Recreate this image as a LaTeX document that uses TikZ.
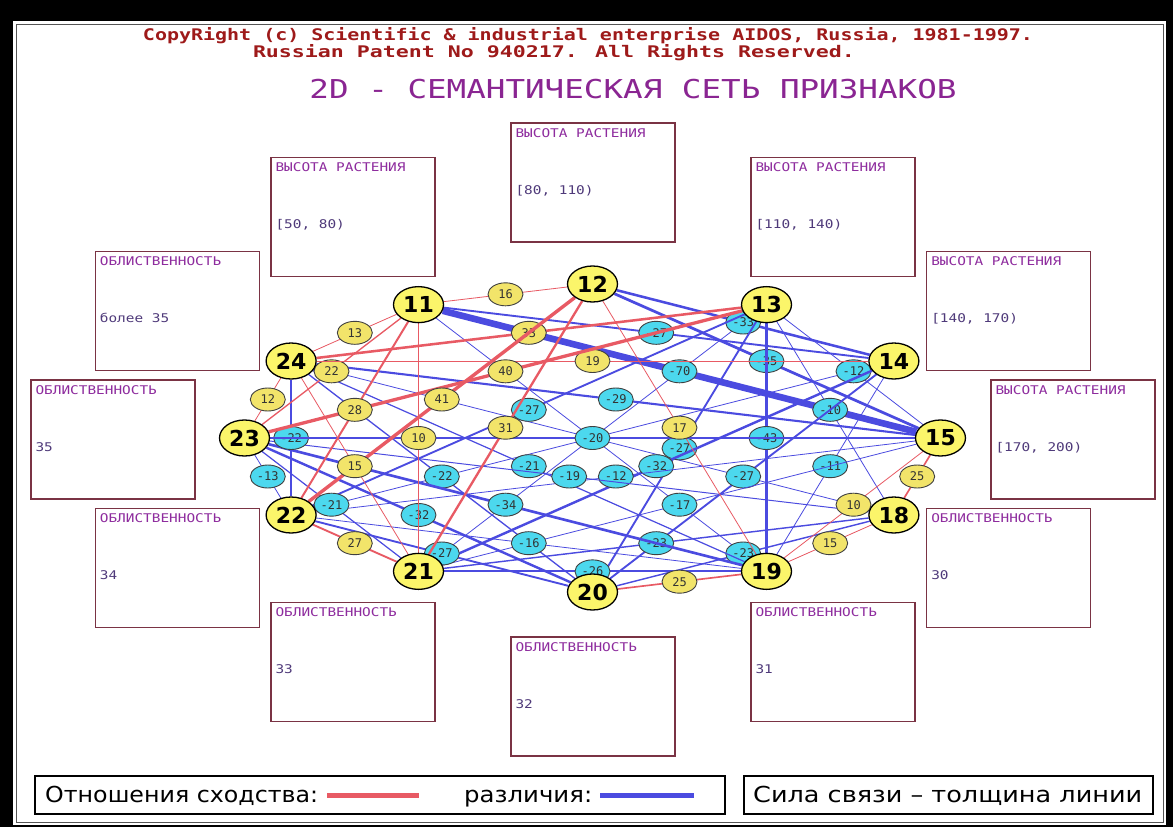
\documentclass[tikz,border=0pt]{standalone}
\usepackage{fontspec}
\setmainfont{DejaVu Sans}
\newfontfamily\monofont{DejaVu Sans Mono}
\newfontfamily\boxfont[FakeStretch=1.2]{DejaVu Sans Mono}
\usetikzlibrary{shapes.geometric,backgrounds}
\pgfdeclarelayer{links}
\pgfsetlayers{background,links,main}
\definecolor{simred}{HTML}{E85A64}
\definecolor{diffblue}{HTML}{4B4BE0}
\definecolor{nodeyellow}{HTML}{FBF56A}
\definecolor{labyellow}{HTML}{F2E46A}
\definecolor{labcyan}{HTML}{4CD8EE}
\definecolor{boxmaroon}{HTML}{7A3344}
\definecolor{headpurple}{HTML}{8E2C9E}
\definecolor{valpurple}{HTML}{4F3A7A}
\definecolor{copyred}{HTML}{9E1A1A}
\definecolor{titlepurple}{HTML}{8A2592}
\definecolor{framegray}{HTML}{555555}
\newcommand\fitto[2]{\resizebox{#1}{\height}{#2}}
\tikzset{
  featnode/.style={ellipse,draw=black,line width=1.3pt,fill=nodeyellow,minimum width=50pt,minimum height=36pt,inner sep=0pt,font=\bfseries\fontsize{22}{22}\selectfont},
  lab/.style={ellipse,draw=black!75,line width=0.9pt,minimum width=35pt,minimum height=23pt,inner sep=0pt,text=black!80,font=\monofont\fontsize{12}{12}\selectfont},
  simlab/.style={lab,fill=labyellow},
  difflab/.style={lab,fill=labcyan},
  simlink/.style={draw=simred},
  difflink/.style={draw=diffblue},
  gradbox/.style={draw=boxmaroon,line width=1.3pt,fill=white,minimum width=164pt,minimum height=119pt,inner sep=0pt},
  gradhead/.style={anchor=base west,inner sep=0pt,text=headpurple,font=\boxfont\fontsize{12}{12}\selectfont},
  gradval/.style={anchor=base west,inner sep=0pt,text=valpurple,font=\boxfont\fontsize{12}{12}\selectfont},
  copytext/.style={anchor=base,inner sep=0pt,text=copyred,font=\monofont\bfseries\fontsize{16}{16}\selectfont},
  titletext/.style={anchor=base,inner sep=0pt,text=titlepurple,font=\monofont\fontsize{26}{26}\selectfont},
  legendbox/.style={draw=black,line width=1.5pt,fill=white,anchor=north west,inner sep=0pt},
  legendtext/.style={anchor=base west,inner sep=0pt,font=\fontsize{22}{22}\selectfont}
}
\begin{document}
\begin{tikzpicture}[x=1pt,y=-1pt]
  % screen frame
  \begin{scope}[on background layer]
    \fill[black] (0,0) rectangle (1173,827);
    \fill[white] (13,21) rectangle (1166,825);
    \draw[framegray,line width=1pt] (16,24) rectangle (1163,822);
  \end{scope}

  % headings
  \node[copytext] (copy1) at (588,40) {\fitto{890pt}{CopyRight (c) Scientific \& industrial enterprise AIDOS, Russia, 1981-1997.}};
  \node[copytext] (copy2) at (554,57) {\fitto{602pt}{Russian Patent No 940217. All Rights Reserved.}};
  \node[titletext] (title) at (633,98) {\fitto{647pt}{2D - СЕМАНТИЧЕСКАЯ СЕТЬ ПРИЗНАКОВ}};

  % feature boxes round the net
  \foreach \n/\a/\head/\val in {12/90/ВЫСОТА РАСТЕНИЯ/{[80, 110)},11/120/ВЫСОТА РАСТЕНИЯ/{[50, 80)},
      13/60/ВЫСОТА РАСТЕНИЯ/{[110, 140)},14/30/ВЫСОТА РАСТЕНИЯ/{[140, 170)},15/0/ВЫСОТА РАСТЕНИЯ/{[170, 200)},
      18/-30/ОБЛИСТВЕННОСТЬ/30,19/-60/ОБЛИСТВЕННОСТЬ/31,20/-90/ОБЛИСТВЕННОСТЬ/32,21/-120/ОБЛИСТВЕННОСТЬ/33,
      22/-150/ОБЛИСТВЕННОСТЬ/34,23/180/ОБЛИСТВЕННОСТЬ/35,24/150/ОБЛИСТВЕННОСТЬ/более 35}{
    \node[gradbox] (g\n) at ({593+480*cos(\a)},{439.5-257*sin(\a)}) {};
    \node[gradhead] (h\n) at ([xshift=5pt,yshift=-15pt]g\n.north west) {\head};
    \node[gradval] (v\n) at ([xshift=5pt,yshift=-72pt]g\n.north west) {\val};
  }

  % feature nodes on the ellipse
  \foreach \n/\a in {12/90,13/60,14/30,15/0,18/-30,19/-60,20/-90,21/-120,22/-150,23/180,24/150,11/120}
    \node[featnode] (n\n) at ({592.5+348*cos(\a)},{438-154*sin(\a)}) {\n};

  \begin{pgfonlayer}{links}
    % links of difference
    \foreach \a/\b in {11/19,24/18,13/21,14/22}
      \draw[difflink,line width=0.8pt] (n\a) -- (n\b);
    \foreach \a/\b/\v in {11/14/-27,12/14/-33,12/15/-35,11/15/-70,13/15/-12,24/15/-29,13/18/-10,14/19/-11,
        13/19/-43,20/13/-27,21/14/-32,22/15/-12,20/14/-27,21/15/-17,21/18/-23,20/18/-23,22/13/-27,
        24/19/-21,23/18/-19,24/20/-22,23/19/-34,23/20/-32,22/19/-16,22/20/-27,21/19/-26,24/22/-22,
        23/22/-13,23/21/-21,23/15/-20}{
      \pgfmathsetmacro\w{max(0.8,(abs(\v)-10)*0.11)}
      \draw[difflink,line width=\w pt] (n\a) -- (n\b) node[midway,difflab] {\v};
    }
    % links of similarity
    \foreach \a/\b/\v in {11/12/16,24/11/13,23/24/12,23/11/22,24/13/33,24/14/19,23/13/40,22/11/28,
        22/12/41,21/11/10,21/12/31,21/24/15,19/12/17,22/21/27,20/19/25,15/18/25,15/19/10,18/19/15}{
      \pgfmathsetmacro\w{max(0.8,(abs(\v)-10)*0.11)}
      \draw[simlink,line width=\w pt] (n\a) -- (n\b) node[midway,simlab] {\v};
    }
  \end{pgfonlayer}

  % legend
  \node[legendbox,minimum width=690pt,minimum height=38pt] (legsim) at (34,775) {};
  \node[legendbox,minimum width=409pt,minimum height=38pt] (legwidth) at (743,775) {};
  \node[legendtext] (simtext) at (45,802) {\fitto{273pt}{Отношения сходства:}};
  \node[legendtext] (difftext) at (464,802) {\fitto{128pt}{различия:}};
  \node[legendtext] (widthtext) at (753,802) {\fitto{389pt}{Сила связи – толщина линии}};
  \coordinate (simA) at (327,795);
  \coordinate (simB) at (419,795);
  \coordinate (diffA) at (600,795);
  \coordinate (diffB) at (694,795);
  \draw[simlink,line width=5pt] (simA) -- (simB);
  \draw[difflink,line width=5pt] (diffA) -- (diffB);
  \useasboundingbox (0,0) rectangle (1173,827);
\end{tikzpicture}
\end{document}
